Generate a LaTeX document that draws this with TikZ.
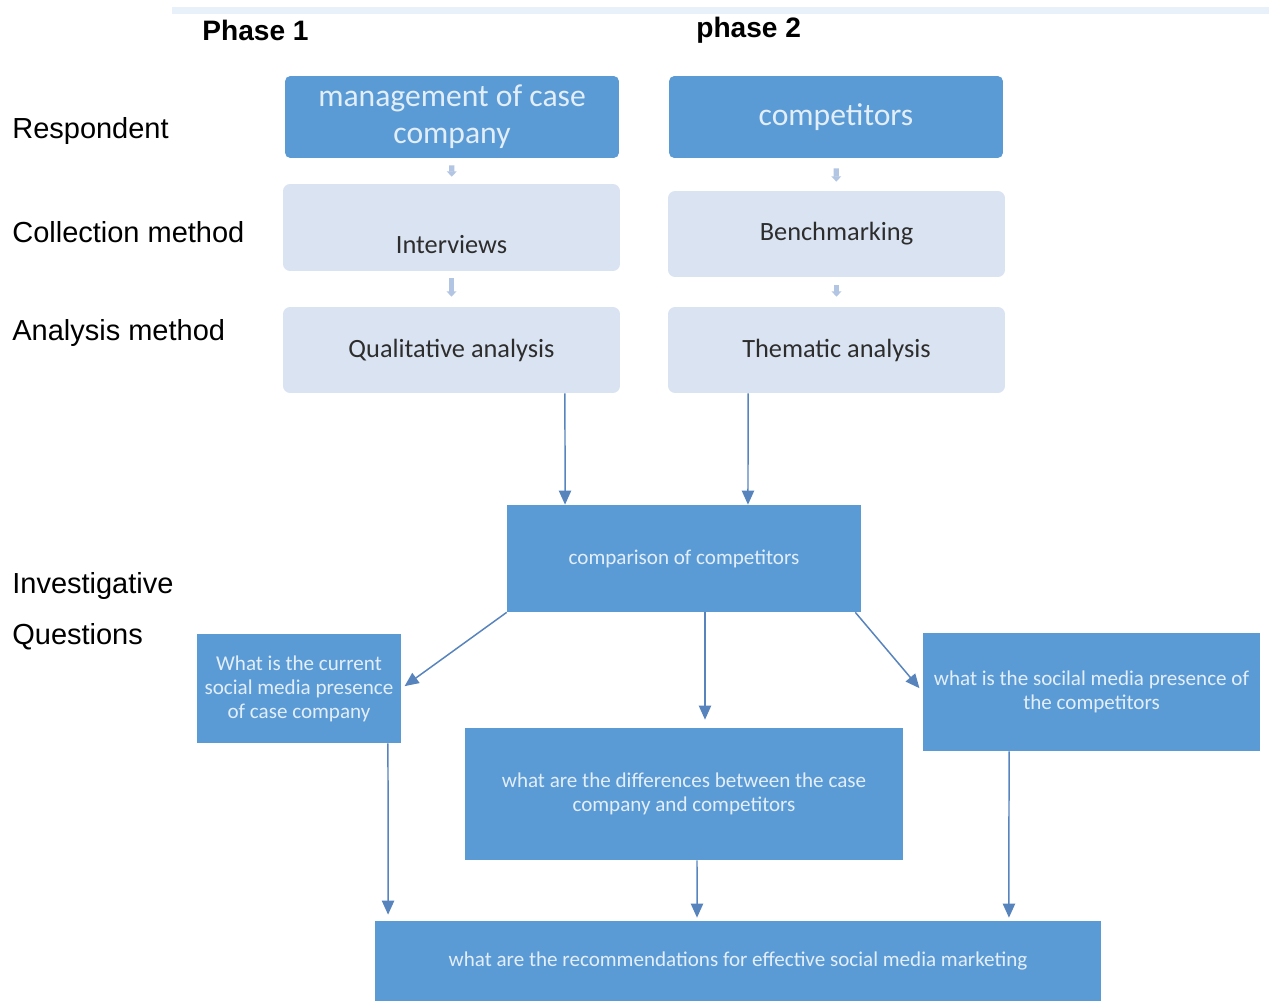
\documentclass[tikz,border=0pt]{standalone}
\usepackage{fontspec}
\setmainfont{Carlito}
\newfontfamily\arial{Liberation Sans}
\usetikzlibrary{arrows.meta}
\definecolor{darkbox}{RGB}{91,155,213}
\definecolor{lightbox}{RGB}{218,227,241}
\definecolor{paletext}{RGB}{226,238,250}
\definecolor{darktext}{RGB}{45,45,45}
\definecolor{arrcol}{RGB}{88,132,190}
\definecolor{blockarr}{RGB}{178,198,228}
\definecolor{topband}{RGB}{232,240,250}
\begin{document}
\begin{tikzpicture}[x=0.02cm,y=-0.02cm,
  dbox/.style={fill=darkbox,draw=none,text=paletext,align=center,inner sep=0pt},
  topbox/.style={dbox,rounded corners=3pt,font=\fontsize{18}{21}\selectfont},
  qbox/.style={dbox,font=\fontsize{12}{13.6}\selectfont},
  lbox/.style={fill=lightbox,draw=none,text=darktext,rounded corners=4pt,align=center,inner sep=0pt,font=\fontsize{15}{18}\selectfont},
  lbtext/.style={text=darktext,inner sep=0pt,font=\fontsize{15}{18}\selectfont},
  lab/.style={anchor=west,inner sep=0pt,font=\arial\fontsize{16.5}{19}\selectfont},
  phase/.style={anchor=west,inner sep=0pt,font=\arial\bfseries\fontsize{16}{19}\selectfont},
  arr/.style={draw=arrcol,line width=0.85pt,-{Triangle[width=7pt,length=8pt]}},
  barr/.style={draw=blockarr,line width=3pt,-{Triangle[width=5.5pt,length=3pt]}}]
\useasboundingbox (0,0) rectangle (1269,1001);
\fill[topband] (172,7) rectangle (1269,14);

% headers
\node[phase] (ph1) at (202,30) {Phase 1};
\node[phase] (ph2) at (696,30) {phase 2};

% left labels
\node[lab] (l1) at (12,131) {Respondent};
\node[lab] (l2) at (12,232) {Collection method};
\node[lab] (l3) at (12,333) {Analysis method};
\node[lab] (l4) at (12,586) {Investigative};
\node[lab] (l5) at (12,637) {Questions};

% top boxes
\node[topbox,minimum width=6.68cm,minimum height=1.64cm] (mgmt) at (452,117) {management of case\\company};
\node[topbox,minimum width=6.68cm,minimum height=1.64cm] (comp) at (836,117) {competitors};

% light boxes
\node[lbox,minimum width=6.74cm,minimum height=1.74cm] (int) at (451.5,227.5) {};
\node[lbtext] (intT) at (451.5,245) {Interviews};
\node[lbox,minimum width=6.74cm,minimum height=1.72cm] (bench) at (836.5,234) {Benchmarking};
\node[lbox,minimum width=6.74cm,minimum height=1.72cm] (qual) at (451.5,350) {Qualitative analysis};
\node[lbox,minimum width=6.74cm,minimum height=1.72cm] (them) at (836.5,350) {Thematic analysis};

% block arrows
\draw[barr,shorten <=0.14cm,shorten >=0.14cm] (mgmt.south) -- (int.north);
\draw[barr,shorten <=0.14cm,shorten >=0.2cm] (int.south) -- (qual.north);
\draw[barr,shorten <=0.2cm,shorten >=0.18cm] (comp.south) -- (bench.north);
\draw[barr,shorten <=0.16cm,shorten >=0.2cm] (bench.south) -- (them.north);

% question boxes
\node[qbox,minimum width=7.08cm,minimum height=2.14cm] (cmp) at (684,558.5) {comparison of competitors};
\node[qbox,minimum width=4.08cm,minimum height=2.18cm] (qa) at (299,688.5) {What is the current\\social media presence\\of case company};
\node[qbox,minimum width=8.76cm,minimum height=2.64cm] (qm) at (684,794) {what are the differences between the case\\company and competitors};
\node[qbox,minimum width=6.74cm,minimum height=2.36cm] (qc) at (1091.5,692) {what is the socilal media presence of\\the competitors};
\node[qbox,minimum width=14.52cm,minimum height=1.6cm] (rec) at (738,961) {what are the recommendations for effective social media marketing};

% connectors
\draw[arr] ([xshift=2.27cm]qual.south) -- ([xshift=-2.38cm]cmp.north);
\draw[arr] ([xshift=-1.77cm]them.south) -- ([xshift=1.28cm]cmp.north);
\draw[arr,shorten >=0.08cm] (cmp.south west) -- (qa.east);
\draw[arr,shorten >=0.1cm] ([xshift=-0.12cm]cmp.south east) -- (qc.west);
\draw[arr,shorten >=0.16cm] ([xshift=0.42cm]cmp.south) -- ([xshift=0.42cm]qm.north);
\draw[arr,shorten >=0.12cm] ([xshift=1.78cm]qa.south) -- ([xshift=-7cm]rec.north);
\draw[arr,shorten >=0.06cm] ([xshift=0.26cm]qm.south) -- ([xshift=-0.82cm]rec.north);
\draw[arr,shorten >=0.06cm] ([xshift=-1.65cm]qc.south) -- ([xshift=5.42cm]rec.north);
\end{tikzpicture}
\end{document}
